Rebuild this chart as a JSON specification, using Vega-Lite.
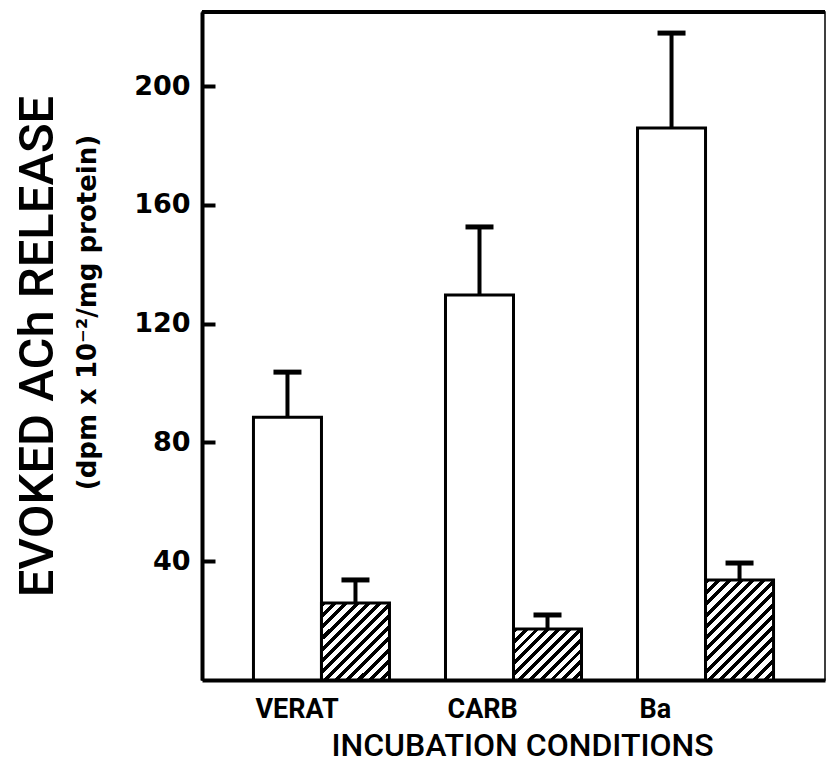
{
  "$schema": "https://vega.github.io/schema/vega-lite/v6.json",
  "width": 623,
  "height": 668,
  "autosize": {"type": "none"},
  "padding": {"left": 202, "top": 12, "right": 2, "bottom": 96},
  "background": "white",
  "config": {"view": {"stroke": "black", "strokeWidth": 1.5}},
  "data": {"values": [
    {"condition": "VERAT", "treatment": "control", "value": 88.5, "upper": 103.7},
    {"condition": "VERAT", "treatment": "treated", "value": 25.9, "upper": 33.7},
    {"condition": "CARB", "treatment": "control", "value": 129.7, "upper": 152.6},
    {"condition": "CARB", "treatment": "treated", "value": 17.2, "upper": 21.9},
    {"condition": "Ba", "treatment": "control", "value": 185.9, "upper": 217.9},
    {"condition": "Ba", "treatment": "treated", "value": 33.7, "upper": 39.4}
  ]},
  "layer": [
    {
      "encoding": {
        "x": {
          "field": "condition", "type": "nominal", "sort": ["VERAT", "CARB", "Ba"],
          "scale": {"paddingInner": 0.2917, "paddingOuter": 0.268},
          "axis": {
            "orient": "bottom", "ticks": false, "domainColor": "black", "domainWidth": 4,
            "labelAngle": 0, "labelAlign": "left", "labelOffset": -66,
            "labelFont": "Roboto", "labelFontWeight": "bold", "labelFontSize": 27, "labelColor": "black", "labelPadding": 16,
            "title": "INCUBATION CONDITIONS", "titleFont": "Roboto", "titleFontSize": 32, "titleFontWeight": 500,
            "titleColor": "black", "titlePadding": 8, "titleX": 320
          }
        },
        "xOffset": {"field": "treatment", "type": "nominal", "scale": {"domain": ["control", "treated"], "paddingInner": 0, "paddingOuter": 0}},
        "y": {
          "field": "value", "type": "quantitative",
          "scale": {"domain": [0, 225], "nice": false},
          "axis": {
            "orient": "left", "values": [40, 80, 120, 160, 200], "grid": false,
            "domainColor": "black", "domainWidth": 4, "tickColor": "black", "tickWidth": 4, "tickSize": -13,
            "labelFont": "DejaVu Sans", "labelFontWeight": "bold", "labelFontSize": 27, "labelColor": "black", "labelPadding": 25,
            "title": "(dpm x 10⁻²/mg protein)", "titleFont": "DejaVu Sans", "titleFontWeight": "bold", "titleFontSize": 26,
            "titleColor": "black", "titlePadding": 33, "titleY": 300
          }
        }
      },
      "layer": [
        {
          "transform": [{"filter": "datum.treatment == 'control'"}],
          "mark": {"type": "bar", "fill": "white", "stroke": "black", "strokeWidth": 3, "strokeJoin": "miter"}
        },
        {
          "transform": [{"filter": "datum.treatment == 'treated' && datum.condition == 'VERAT'"}],
          "mark": {"type": "bar", "stroke": "black", "strokeWidth": 3, "strokeJoin": "miter",
            "fill": {"gradient": "linear", "x1": 0, "y1": 0, "x2": 0.934, "y2": 1.058, "stops": [
              {"offset": 0, "color": "black"}, {"offset": 0.0346, "color": "black"}, {"offset": 0.0346, "color": "white"}, {"offset": 0.0769, "color": "white"},
              {"offset": 0.0769, "color": "black"}, {"offset": 0.1115, "color": "black"}, {"offset": 0.1115, "color": "white"}, {"offset": 0.1538, "color": "white"},
              {"offset": 0.1538, "color": "black"}, {"offset": 0.1885, "color": "black"}, {"offset": 0.1885, "color": "white"}, {"offset": 0.2308, "color": "white"},
              {"offset": 0.2308, "color": "black"}, {"offset": 0.2654, "color": "black"}, {"offset": 0.2654, "color": "white"}, {"offset": 0.3077, "color": "white"},
              {"offset": 0.3077, "color": "black"}, {"offset": 0.3423, "color": "black"}, {"offset": 0.3423, "color": "white"}, {"offset": 0.3846, "color": "white"},
              {"offset": 0.3846, "color": "black"}, {"offset": 0.4192, "color": "black"}, {"offset": 0.4192, "color": "white"}, {"offset": 0.4615, "color": "white"},
              {"offset": 0.4615, "color": "black"}, {"offset": 0.4962, "color": "black"}, {"offset": 0.4962, "color": "white"}, {"offset": 0.5385, "color": "white"},
              {"offset": 0.5385, "color": "black"}, {"offset": 0.5731, "color": "black"}, {"offset": 0.5731, "color": "white"}, {"offset": 0.6154, "color": "white"},
              {"offset": 0.6154, "color": "black"}, {"offset": 0.65, "color": "black"}, {"offset": 0.65, "color": "white"}, {"offset": 0.6923, "color": "white"},
              {"offset": 0.6923, "color": "black"}, {"offset": 0.7269, "color": "black"}, {"offset": 0.7269, "color": "white"}, {"offset": 0.7692, "color": "white"},
              {"offset": 0.7692, "color": "black"}, {"offset": 0.8038, "color": "black"}, {"offset": 0.8038, "color": "white"}, {"offset": 0.8462, "color": "white"},
              {"offset": 0.8462, "color": "black"}, {"offset": 0.8808, "color": "black"}, {"offset": 0.8808, "color": "white"}, {"offset": 0.9231, "color": "white"},
              {"offset": 0.9231, "color": "black"}, {"offset": 0.9577, "color": "black"}, {"offset": 0.9577, "color": "white"}, {"offset": 1, "color": "white"}
            ]}
          }
        },
        {
          "transform": [{"filter": "datum.treatment == 'treated' && datum.condition == 'CARB'"}],
          "mark": {"type": "bar", "stroke": "black", "strokeWidth": 3, "strokeJoin": "miter",
            "fill": {"gradient": "linear", "x1": 0, "y1": 0, "x2": 1.12, "y2": 0.84, "stops": [
              {"offset": 0, "color": "black"}, {"offset": 0.0409, "color": "black"}, {"offset": 0.0409, "color": "white"}, {"offset": 0.0909, "color": "white"},
              {"offset": 0.0909, "color": "black"}, {"offset": 0.1318, "color": "black"}, {"offset": 0.1318, "color": "white"}, {"offset": 0.1818, "color": "white"},
              {"offset": 0.1818, "color": "black"}, {"offset": 0.2227, "color": "black"}, {"offset": 0.2227, "color": "white"}, {"offset": 0.2727, "color": "white"},
              {"offset": 0.2727, "color": "black"}, {"offset": 0.3136, "color": "black"}, {"offset": 0.3136, "color": "white"}, {"offset": 0.3636, "color": "white"},
              {"offset": 0.3636, "color": "black"}, {"offset": 0.4045, "color": "black"}, {"offset": 0.4045, "color": "white"}, {"offset": 0.4545, "color": "white"},
              {"offset": 0.4545, "color": "black"}, {"offset": 0.4955, "color": "black"}, {"offset": 0.4955, "color": "white"}, {"offset": 0.5455, "color": "white"},
              {"offset": 0.5455, "color": "black"}, {"offset": 0.5864, "color": "black"}, {"offset": 0.5864, "color": "white"}, {"offset": 0.6364, "color": "white"},
              {"offset": 0.6364, "color": "black"}, {"offset": 0.6773, "color": "black"}, {"offset": 0.6773, "color": "white"}, {"offset": 0.7273, "color": "white"},
              {"offset": 0.7273, "color": "black"}, {"offset": 0.7682, "color": "black"}, {"offset": 0.7682, "color": "white"}, {"offset": 0.8182, "color": "white"},
              {"offset": 0.8182, "color": "black"}, {"offset": 0.8591, "color": "black"}, {"offset": 0.8591, "color": "white"}, {"offset": 0.9091, "color": "white"},
              {"offset": 0.9091, "color": "black"}, {"offset": 0.95, "color": "black"}, {"offset": 0.95, "color": "white"}, {"offset": 1, "color": "white"}
            ]}
          }
        },
        {
          "transform": [{"filter": "datum.treatment == 'treated' && datum.condition == 'Ba'"}],
          "mark": {"type": "bar", "stroke": "black", "strokeWidth": 3, "strokeJoin": "miter",
            "fill": {"gradient": "linear", "x1": 0, "y1": 0, "x2": 0.781, "y2": 1.149, "stops": [
              {"offset": 0, "color": "black"}, {"offset": 0.03, "color": "black"}, {"offset": 0.03, "color": "white"}, {"offset": 0.0667, "color": "white"},
              {"offset": 0.0667, "color": "black"}, {"offset": 0.0967, "color": "black"}, {"offset": 0.0967, "color": "white"}, {"offset": 0.1333, "color": "white"},
              {"offset": 0.1333, "color": "black"}, {"offset": 0.1633, "color": "black"}, {"offset": 0.1633, "color": "white"}, {"offset": 0.2, "color": "white"},
              {"offset": 0.2, "color": "black"}, {"offset": 0.23, "color": "black"}, {"offset": 0.23, "color": "white"}, {"offset": 0.2667, "color": "white"},
              {"offset": 0.2667, "color": "black"}, {"offset": 0.2967, "color": "black"}, {"offset": 0.2967, "color": "white"}, {"offset": 0.3333, "color": "white"},
              {"offset": 0.3333, "color": "black"}, {"offset": 0.3633, "color": "black"}, {"offset": 0.3633, "color": "white"}, {"offset": 0.4, "color": "white"},
              {"offset": 0.4, "color": "black"}, {"offset": 0.43, "color": "black"}, {"offset": 0.43, "color": "white"}, {"offset": 0.4667, "color": "white"},
              {"offset": 0.4667, "color": "black"}, {"offset": 0.4967, "color": "black"}, {"offset": 0.4967, "color": "white"}, {"offset": 0.5333, "color": "white"},
              {"offset": 0.5333, "color": "black"}, {"offset": 0.5633, "color": "black"}, {"offset": 0.5633, "color": "white"}, {"offset": 0.6, "color": "white"},
              {"offset": 0.6, "color": "black"}, {"offset": 0.63, "color": "black"}, {"offset": 0.63, "color": "white"}, {"offset": 0.6667, "color": "white"},
              {"offset": 0.6667, "color": "black"}, {"offset": 0.6967, "color": "black"}, {"offset": 0.6967, "color": "white"}, {"offset": 0.7333, "color": "white"},
              {"offset": 0.7333, "color": "black"}, {"offset": 0.7633, "color": "black"}, {"offset": 0.7633, "color": "white"}, {"offset": 0.8, "color": "white"},
              {"offset": 0.8, "color": "black"}, {"offset": 0.83, "color": "black"}, {"offset": 0.83, "color": "white"}, {"offset": 0.8667, "color": "white"},
              {"offset": 0.8667, "color": "black"}, {"offset": 0.8967, "color": "black"}, {"offset": 0.8967, "color": "white"}, {"offset": 0.9333, "color": "white"},
              {"offset": 0.9333, "color": "black"}, {"offset": 0.9633, "color": "black"}, {"offset": 0.9633, "color": "white"}, {"offset": 1, "color": "white"}
            ]}
          }
        },
        {
          "mark": {"type": "rule", "color": "black", "strokeWidth": 4},
          "encoding": {"y2": {"field": "upper"}}
        },
        {
          "mark": {"type": "tick", "color": "black", "size": 28, "thickness": 5, "opacity": 1},
          "encoding": {
            "y": {
              "field": "upper", "type": "quantitative",
              "scale": {"domain": [0, 225], "nice": false},
              "axis": {
                "orient": "left", "values": [40, 80, 120, 160, 200], "grid": false,
                "domainColor": "black", "domainWidth": 4, "tickColor": "black", "tickWidth": 4, "tickSize": -13,
                "labelFont": "DejaVu Sans", "labelFontWeight": "bold", "labelFontSize": 27, "labelColor": "black", "labelPadding": 25,
                "title": "(dpm x 10⁻²/mg protein)", "titleFont": "DejaVu Sans", "titleFontWeight": "bold", "titleFontSize": 26,
                "titleColor": "black", "titlePadding": 33, "titleY": 300
              }
            }
          }
        }
      ]
    },
    {
      "mark": {"type": "rule", "color": "black", "strokeWidth": 4},
      "encoding": {
        "y": {
          "datum": 225, "type": "quantitative",
          "axis": {
            "orient": "left", "labels": false, "ticks": false, "domain": false, "grid": false,
            "title": "EVOKED ACh RELEASE", "titleFont": "Roboto", "titleFontSize": 49, "titleFontWeight": 500,
            "titleColor": "black", "titlePadding": 140
          }
        }
      }
    }
  ],
  "resolve": {"axis": {"y": "independent"}}
}
